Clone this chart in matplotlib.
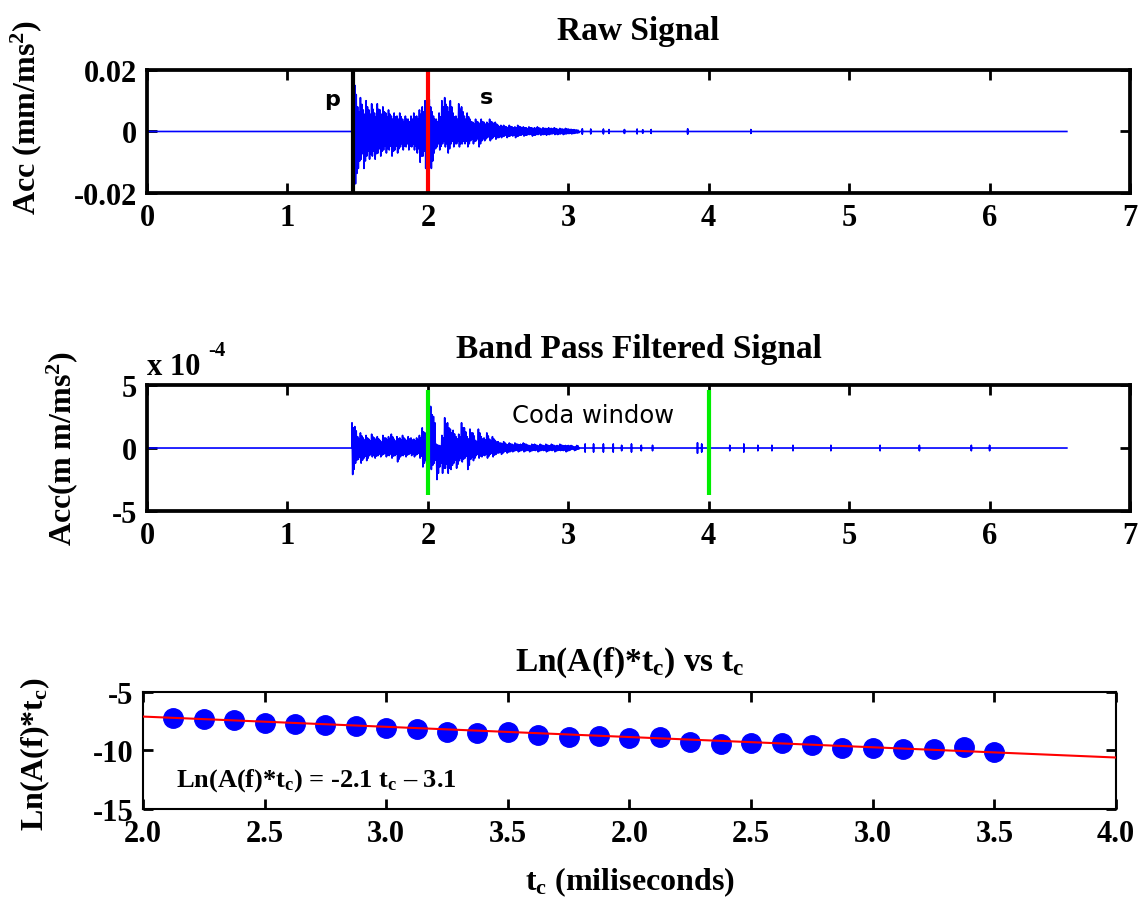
import numpy as np
import matplotlib
matplotlib.use('Agg')
from matplotlib import pyplot as plt

plt.rcParams['font.family'] = 'Liberation Serif'
plt.rcParams['font.weight'] = 'bold'
plt.rcParams['axes.titleweight'] = 'bold'
plt.rcParams['axes.labelweight'] = 'bold'
plt.rcParams['axes.unicode_minus'] = False
plt.rcParams['mathtext.fontset'] = 'custom'
plt.rcParams['mathtext.rm'] = 'Liberation Serif:bold'
plt.rcParams['mathtext.it'] = 'Liberation Serif:bold'
plt.rcParams['mathtext.bf'] = 'Liberation Serif:bold'
plt.rcParams['mathtext.default'] = 'rm'

## raw signal, envelope read every 0.02 s from 1.46 s (units of 1e-3 mm/ms2)
raw_start = 1.46
raw_up = [14, 15, 8, 11, 7, 10, 7, 9, 6, 9,
          7, 8, 6, 7, 5, 6, 5, 6, 4, 5,
          4, 5, 6, 5, 7, 8, 10, 13, 8, 5,
          4, 6, 10, 11, 8, 10, 6, 5, 9, 8,
          5, 6, 4, 3, 4, 3, 4, 3, 3, 4,
          3, 3, 2, 2, 2, 1.5, 2, 1.5, 1.5, 2,
          1.5, 1.5, 1.2, 1.5, 1.2, 1.2, 1.5, 1.0, 1.2, 1.0,
          1.2, 1.0, 1.2, 0.8, 1.0, 0.8, 1.0, 0.8, 0.7, 0.6, 0.5]
raw_lo = [-18, -17, -12, -9, -12, -8, -9, -8, -9, -7,
          -8, -6, -7, -6, -8, -6, -7, -5, -6, -5,
          -6, -5, -6, -7, -10, -8, -12, -14, -12, -7,
          -5, -6, -4, -5, -7, -4, -5, -4, -5, -4,
          -4, -5, -3, -4, -3, -5, -3, -3, -2, -3,
          -2, -2.5, -2, -2, -1.5, -2, -1.5, -1.5, -2, -1.5,
          -1.2, -1.5, -1.2, -1.0, -1.5, -1.2, -1.0, -1.2, -1.0, -1.2,
          -1.0, -0.8, -1.0, -1.0, -0.8, -1.0, -0.8, -0.7, -0.8, -0.6, -0.5]
raw_spike_t = [3.10, 3.16, 3.25, 3.29, 3.40, 3.49, 3.53, 3.59, 3.85, 4.30]
raw_spike_a = [0.8, 0.7, 0.7, 0.6, 0.6, 0.7, 0.5, 0.6, 0.8, 0.6]

## band pass filtered signal (units of 1e-4 mm/ms2)
filt_up = [2.0, 1.7, 0.9, 1.2, 0.8, 1.0, 0.7, 1.1, 0.8, 0.9,
           0.6, 1.0, 0.8, 0.9, 1.1, 0.7, 0.9, 0.8, 1.0, 0.7,
           0.9, 0.8, 0.7, 0.8, 1.0, 1.6, 1.2, 1.8, 3.3, 2.5,
           0.3, 0.2, 1.0, 2.4, 2.0, 1.5, 1.4, 0.9, 1.1, 2.0,
           1.6, 0.9, 1.5, 1.2, 0.6, 1.5, 0.9, 0.8, 1.2, 0.7,
           0.9, 0.6, 0.5, 0.4, 0.5, 0.3, 0.4, 0.3, 0.4, 0.3,
           0.3, 0.4, 0.3, 0.2, 0.3, 0.3, 0.2, 0.3, 0.2, 0.3,
           0.2, 0.3, 0.2, 0.2, 0.3, 0.2, 0.2, 0.2, 0.2, 0.1, 0.2]
filt_lo = [-2.1, -1.2, -0.9, -1.2, -0.8, -1.0, -0.6, -0.7, -0.8, -0.6,
           -0.7, -0.5, -0.7, -0.6, -0.8, -0.6, -1.1, -0.7, -0.6, -0.7,
           -0.5, -0.6, -0.7, -0.5, -0.8, -1.5, -1.0, -1.4, -1.7, -1.2,
           -2.5, -1.5, -2.0, -1.6, -2.0, -1.7, -1.2, -1.6, -1.0, -1.1,
           -0.8, -1.7, -0.9, -1.0, -0.6, -0.8, -0.7, -0.6, -0.8, -0.5,
           -0.7, -0.5, -0.4, -0.5, -0.3, -0.4, -0.3, -0.3, -0.2, -0.3,
           -0.2, -0.3, -0.2, -0.3, -0.2, -0.2, -0.3, -0.2, -0.2, -0.3,
           -0.2, -0.2, -0.3, -0.2, -0.2, -0.2, -0.3, -0.2, -0.1, -0.2, -0.1]
filt_spike_t = [3.12, 3.18, 3.25, 3.32, 3.38, 3.45, 3.52, 3.60, 3.92, 3.95,
                4.15, 4.25, 4.35, 4.45, 4.60, 4.87, 5.22, 5.50, 5.87, 6.00]
filt_spike_a = [0.3, 0.3, 0.3, 0.3, 0.2, 0.3, 0.2, 0.2, 0.4, 0.3,
                0.2, 0.3, 0.2, 0.2, 0.2, 0.2, 0.2, 0.2, 0.2, 0.2]

t_end = 6.55
p_time = 1.465
s_time = 2.0
coda_start = 2.0
coda_end = 4.0

## coda decay: Ln(A(f)*tc) at each lapse step
ln_vals = [-7.23, -7.34, -7.43, -7.63, -7.71, -7.86, -7.91, -8.09, -8.20, -8.43,
           -8.49, -8.43, -8.66, -8.86, -8.77, -8.94, -8.86, -9.29, -9.43, -9.34,
           -9.34, -9.51, -9.80, -9.80, -9.86, -9.91, -9.71, -10.09]
fit_x = [0, 8]
fit_y = [-7.1, -10.6]
tc_labels = ['2.0', '2.5', '3.0', '3.5', '2.0', '2.5', '3.0', '3.5', '4.0']


def trace(up, lo, spike_t, spike_a, scale):
    xs = [0, raw_start]
    ys = [0, 0]
    for i in range(len(up)):
        t = raw_start + 0.02 * i
        # two swings per envelope step
        xs += [t, t + 0.005, t + 0.01, t + 0.015]
        ys += [up[i] * scale, lo[i] * scale, up[i] * scale * 0.8, lo[i] * scale * 0.8]
    xs += [raw_start + 0.02 * len(up)]
    ys += [0]
    for t, a in zip(spike_t, spike_a):
        xs += [t, t, t, t]
        ys += [0, a * scale, -a * scale, 0]
    xs += [t_end]
    ys += [0]
    return xs, ys


def style(ax, lw):
    for sp in ax.spines.values():
        sp.set_linewidth(lw)
    ax.tick_params(direction='in', top=True, right=True, length=7, width=2,
                   labelsize=22, pad=7)


fig = plt.figure(figsize=(11.41, 9.04), dpi=100)
ax1 = fig.add_axes([0.1288, 0.7854, 0.8616, 0.1361])
ax2 = fig.add_axes([0.1288, 0.4336, 0.8616, 0.1394])
ax3 = fig.add_axes([0.1253, 0.1040, 0.8528, 0.1294])

## raw signal
x, y = trace(raw_up, raw_lo, raw_spike_t, raw_spike_a, 1e-3)
ax1.plot(x, y, color='blue', lw=1.2)
ax1.axvline(p_time, color='black', lw=3)
ax1.axvline(s_time, color='red', lw=3)
ax1.text(1.32, 0.0105, 'p', family='DejaVu Sans', weight='bold', fontsize=16,
         ha='center', va='center')
ax1.text(2.42, 0.0112, 's', family='DejaVu Sans', weight='bold', fontsize=16,
         ha='center', va='center')
ax1.set_xlim(0, 7)
ax1.set_ylim(-0.02, 0.02)
ax1.set_yticks([-0.02, 0, 0.02])
ax1.set_yticklabels(['-0.02', '0', '0.02'])
ax1.set_title('Raw Signal', fontsize=24, pad=22)
ax1.set_ylabel('Acc (mm/ms$^{2}$)', fontsize=23)
ax1.yaxis.set_label_coords(-0.105, 0.62)
style(ax1, 2.7)

## filtered signal
x, y = trace(filt_up, filt_lo, filt_spike_t, filt_spike_a, 1.0)
ax2.plot(x, y, color='blue', lw=1.2)
ax2.vlines([coda_start, coda_end], -3.75, 4.6, color='#00ee00', lw=3)
ax2.text(2.6, 2.6, 'Coda window', family='DejaVu Sans', weight='normal',
         fontsize=17.5, ha='left', va='center')
ax2.text(0.0, 1.03, 'x 10', transform=ax2.transAxes, fontsize=22,
         ha='left', va='bottom')
ax2.text(0.062, 1.2, '-4', transform=ax2.transAxes, fontsize=15,
         ha='left', va='bottom')
ax2.set_xlim(0, 7)
ax2.set_ylim(-5, 5)
ax2.set_yticks([-5, 0, 5])
ax2.set_title('Band Pass Filtered Signal', fontsize=24, pad=20)
ax2.set_ylabel('Acc(m m/ms$^{2}$)', fontsize=23)
ax2.yaxis.set_label_coords(-0.068, 0.5)
style(ax2, 2.7)

## coda fit
tc_pos = np.arange(1, len(ln_vals) + 1) * 0.25
ax3.plot(fit_x, fit_y, color='red', lw=1.5, zorder=3)
ax3.plot(tc_pos, ln_vals, 'o', color='blue', markersize=14, zorder=2)
ax3.text(0.27, -12.5, 'Ln(A(f)*t$_\\mathrm{c}$) = -2.1 t$_\\mathrm{c}$ \u2013 3.1',
         fontsize=19, ha='left', va='center')
ax3.set_xlim(0, 8)
ax3.set_ylim(-15, -5)
ax3.set_xticks(range(9))
ax3.set_xticklabels(tc_labels)
ax3.set_yticks([-15, -10, -5])
ax3.set_title('Ln(A(f)*t$_\\mathrm{c}$) vs t$_\\mathrm{c}$', fontsize=24, pad=16)
ax3.set_ylabel('Ln(A(f)*t$_\\mathrm{c}$)', fontsize=23)
ax3.yaxis.set_label_coords(-0.094, 0.48)
ax3.set_xlabel('t$_\\mathrm{c}$ (miliseconds)', fontsize=23, labelpad=12)
style(ax3, 1.5)

fig.savefig('out.png', dpi=100)
